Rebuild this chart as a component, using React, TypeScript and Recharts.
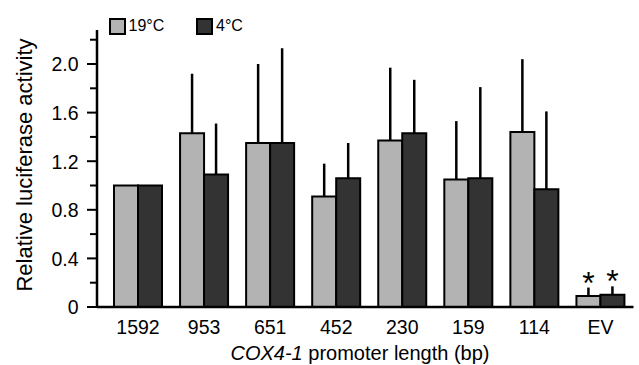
import { BarChart, Bar, XAxis, YAxis, ErrorBar, Legend, Label, LabelList } from 'recharts';

const lengths = ['1592', '953', '651', '452', '230', '159', '114', 'EV'];
const warm = [1.0, 1.43, 1.35, 0.91, 1.37, 1.05, 1.44, 0.09];
const warmErr = [0, 0.49, 0.65, 0.27, 0.6, 0.48, 0.6, 0.07];
const cold = [1.0, 1.09, 1.35, 1.06, 1.43, 1.06, 0.97, 0.1];
const coldErr = [0, 0.42, 0.78, 0.29, 0.44, 0.75, 0.64, 0.07];
const significant = ['EV'];

const yTicks = [0, 0.2, 0.4, 0.6, 0.8, 1.0, 1.2, 1.4, 1.6, 1.8, 2.0, 2.2];

const FONT = '"Liberation Sans", Arial, sans-serif';
const LIGHT = '#b3b3b3';
const DARK = '#333333';

const rows = lengths.map((name, i) => ({
  name,
  warm: warm[i],
  warmErr: [0, warmErr[i]],
  cold: cold[i],
  coldErr: [0, coldErr[i]],
}));

function YTick({ x, y, payload }: any) {
  const v = payload.value as number;
  const major = Math.round(v * 10) % 4 === 0;
  return (
    <g>
      <line x1={x - (major ? 10 : 7)} x2={x} y1={y} y2={y} stroke="#000" strokeWidth={2} />
      {major && (
        <text x={x - 18.5} y={y} dy="0.38em" textAnchor="end" fontSize={19.5} fontFamily={FONT} fill="#000">
          {v === 0 ? '0' : v.toFixed(1)}
        </text>
      )}
    </g>
  );
}

function XTick({ x, y, payload }: any) {
  return (
    <text x={x} y={y + 25} textAnchor="middle" fontSize={19.5} fontFamily={FONT} fill="#000">
      {payload.value}
    </text>
  );
}

// asterisk above the error bar, only for the marked groups
function star(errs: number[]) {
  return (props: any) => {
    const { x, y, width, height, value, index } = props;
    if (!significant.includes(lengths[index]) || !value) return null;
    const top = y - errs[index] * (height / value);
    return (
      <text x={x + width / 2} y={top + 6} textAnchor="middle" fontSize={32} fontFamily={FONT} fill="#000">
        *
      </text>
    );
  };
}

function LegendBox() {
  const item = (fill: string, text: string, left: number) => (
    <div style={{ position: 'absolute', left, top: 0, display: 'flex', alignItems: 'center' }}>
      <div style={{ width: 13, height: 13, background: fill, border: '2.5px solid #000' }} />
      <span style={{ marginLeft: 3, fontSize: 16, fontFamily: FONT, lineHeight: '18px' }}>{text}</span>
    </div>
  );
  return (
    <div style={{ position: 'relative', height: 18 }}>
      {item(LIGHT, '19°C', 0)}
      {item(DARK, '4°C', 87.5)}
    </div>
  );
}

export default function App() {
  return (
    <div style={{ position: 'absolute', left: 0, top: 0, background: '#fff' }}>
      <BarChart
        width={639}
        height={365}
        data={rows}
        margin={{ top: 12, right: 5.5, bottom: 0, left: 0 }}
        barGap={0}
        barSize={24}
      >
        <XAxis
          dataKey="name"
          height={58}
          padding={{ left: 8, right: 0 }}
          tickLine={false}
          tickSize={0}
          tick={<XTick />}
          axisLine={{ stroke: '#000', strokeWidth: 2.5 }}
        >
          <Label
            content={() => (
              <text x={360} y={360} textAnchor="middle" fontSize={20} fontFamily={FONT} fill="#000">
                <tspan fontStyle="italic">COX4-1</tspan>
                <tspan> promoter length (bp)</tspan>
              </text>
            )}
          />
        </XAxis>
        <YAxis
          width={97}
          domain={[0, 2.28]}
          ticks={yTicks}
          interval={0}
          tickLine={false}
          tickSize={0}
          tickMargin={0}
          tick={<YTick />}
          axisLine={{ stroke: '#000', strokeWidth: 2.5 }}
        >
          <Label
            content={() => (
              <text
                x={31.5}
                y={165}
                transform="rotate(-90, 31.5, 165)"
                textAnchor="middle"
                fontSize={22}
                fontFamily={FONT}
                fill="#000"
              >
                Relative luciferase activity
              </text>
            )}
          />
        </YAxis>
        <Legend
          verticalAlign="top"
          align="left"
          wrapperStyle={{ top: 17, left: 108.5, width: 200 }}
          content={() => <LegendBox />}
        />
        <Bar dataKey="warm" name="19°C" fill={LIGHT} stroke="#000" strokeWidth={2} isAnimationActive={false}>
          <ErrorBar dataKey="warmErr" direction="y" width={0} stroke="#000" strokeWidth={2.5} isAnimationActive={false} />
          <LabelList dataKey="warm" content={star(warmErr)} />
        </Bar>
        <Bar dataKey="cold" name="4°C" fill={DARK} stroke="#000" strokeWidth={2} isAnimationActive={false}>
          <ErrorBar dataKey="coldErr" direction="y" width={0} stroke="#000" strokeWidth={2.5} isAnimationActive={false} />
          <LabelList dataKey="cold" content={star(coldErr)} />
        </Bar>
      </BarChart>
    </div>
  );
}
